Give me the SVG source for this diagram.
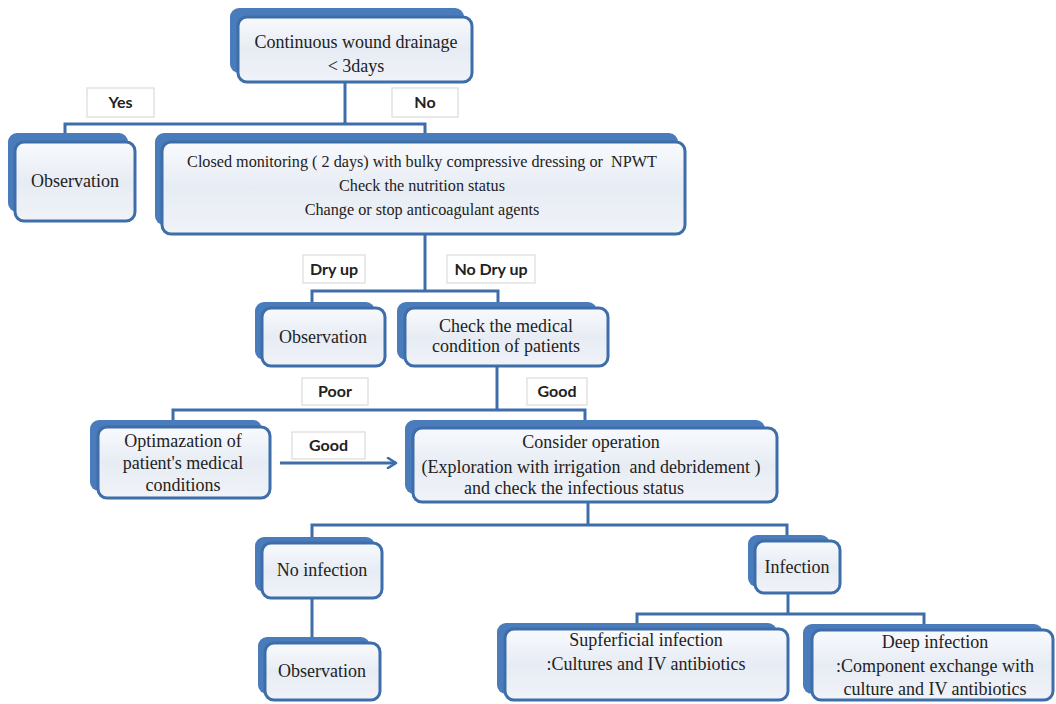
<svg xmlns="http://www.w3.org/2000/svg" width="1056" height="704" viewBox="0 0 1056 704">
<defs>
<linearGradient id="fg" x1="0" y1="0" x2="0" y2="1">
<stop offset="0" stop-color="#f8fafd"/>
<stop offset="0.5" stop-color="#e7ecf4"/>
<stop offset="1" stop-color="#f0f3f8"/>
</linearGradient>
<marker id="arr" viewBox="0 0 12 12" refX="10" refY="6" markerWidth="12" markerHeight="12" markerUnits="userSpaceOnUse" orient="auto">
<path d="M2,1 L10,6 L2,11" fill="none" stroke="#3e6eaa" stroke-width="2.6" stroke-linecap="round" stroke-linejoin="round"/>
</marker>
<style>
.bk{fill:#4a7bbb;}
.fr{fill:url(#fg);stroke:#3e6eaa;stroke-width:3;}
.t{font-family:"Liberation Serif","Times New Roman",serif;font-size:18px;fill:#222;text-anchor:middle;white-space:pre;}
.ts{font-size:16.2px;}
.lb{fill:#ffffff;stroke:#e2e2e2;stroke-width:1.5;}
.lt{font-family:Lato,"Liberation Sans",sans-serif;font-weight:bold;font-size:16px;fill:#222;text-anchor:middle;}
.c{fill:none;stroke:#3e6eaa;stroke-width:3;}
</style>
</defs>
<rect width="1056" height="704" fill="#ffffff"/>

<g id="connectors">
<path class="c" d="M345,82 V124"/>
<path class="c" d="M65,134 V124 H425 V134"/>
<path class="c" d="M425,234 V291"/>
<path class="c" d="M312,302 V291 H498 V302"/>
<path class="c" d="M497,366 V410"/>
<path class="c" d="M173,420 V410 H585 V420"/>
<path class="c" d="M280,463 H396" marker-end="url(#arr)"/>
<path class="c" d="M588,502 V525"/>
<path class="c" d="M312,537 V525 H787 V535"/>
<path class="c" d="M312,598 V637"/>
<path class="c" d="M788,593 V614"/>
<path class="c" d="M637,623 V614 H924 V625"/>
</g>

<g id="labels">
<g id="lbl-yes"><rect class="lb" x="87" y="88" width="67" height="29"/><text class="lt" x="120.5" y="108">Yes</text></g>
<g id="lbl-no"><rect class="lb" x="392" y="88" width="66" height="29"/><text class="lt" x="425" y="108">No</text></g>
<g id="lbl-dry"><rect class="lb" x="303" y="255" width="62" height="28"/><text class="lt" x="334" y="275">Dry up</text></g>
<g id="lbl-nodry"><rect class="lb" x="447" y="255" width="88" height="28"/><text class="lt" x="491" y="275">No Dry up</text></g>
<g id="lbl-poor"><rect class="lb" x="302" y="378" width="66" height="27"/><text class="lt" x="335" y="397">Poor</text></g>
<g id="lbl-good1"><rect class="lb" x="527" y="378" width="60" height="27"/><text class="lt" x="557" y="397">Good</text></g>
<g id="lbl-good2"><rect class="lb" x="292" y="432" width="73" height="27"/><text class="lt" x="328.5" y="451">Good</text></g>
</g>

<g id="n-top">
<rect class="bk" x="230" y="8" width="234" height="65" rx="9"/>
<rect class="fr" x="238" y="17" width="234" height="65" rx="9"/>
<text class="t" x="356" y="48">Continuous wound drainage</text>
<text class="t" x="356" y="72">&lt; 3days</text>
</g>

<g id="n-obs1">
<rect class="bk" x="8" y="133" width="120" height="79" rx="9"/>
<rect class="fr" x="15" y="142" width="120" height="79" rx="9"/>
<text class="t" x="75" y="187">Observation</text>
</g>

<g id="n-closed">
<rect class="bk" x="155" y="133" width="523" height="92" rx="9"/>
<rect class="fr" x="162" y="142" width="523" height="92" rx="9"/>
<text class="t ts" x="422" y="167">Closed monitoring ( 2 days) with bulky compressive dressing or  NPWT</text>
<text class="t ts" x="422" y="191">Check the nutrition status</text>
<text class="t ts" x="422" y="215">Change or stop anticoagulant agents</text>
</g>

<g id="n-obs2">
<rect class="bk" x="255" y="302" width="120" height="58" rx="9"/>
<rect class="fr" x="262" y="308" width="123" height="58" rx="9"/>
<text class="t" x="323" y="343">Observation</text>
</g>

<g id="n-check">
<rect class="bk" x="397" y="302" width="200" height="58" rx="9"/>
<rect class="fr" x="405" y="308" width="203" height="58" rx="9"/>
<text class="t" x="506" y="332">Check the medical</text>
<text class="t" x="506" y="352">condition of patients</text>
</g>

<g id="n-optim">
<rect class="bk" x="90" y="420" width="172" height="71" rx="9"/>
<rect class="fr" x="98" y="427" width="172" height="71" rx="9"/>
<text class="t" x="183" y="447">Optimazation of</text>
<text class="t" x="183" y="469">patient's medical</text>
<text class="t" x="183" y="491">conditions</text>
</g>

<g id="n-consider">
<rect class="bk" x="405" y="420" width="360" height="74" rx="9"/>
<rect class="fr" x="413" y="428" width="364" height="74" rx="9"/>
<text class="t" x="591" y="448">Consider operation</text>
<text class="t" x="591" y="473">(Exploration with irrigation  and debridement )</text>
<text class="t" x="574" y="494">and check the infectious status</text>
</g>

<g id="n-noinf">
<rect class="bk" x="255" y="537" width="120" height="55" rx="9"/>
<rect class="fr" x="262" y="543" width="120" height="55" rx="9"/>
<text class="t" x="322" y="576">No infection</text>
</g>

<g id="n-inf">
<rect class="bk" x="748" y="535" width="82" height="52" rx="9"/>
<rect class="fr" x="755" y="541" width="85" height="52" rx="9"/>
<text class="t" x="797" y="573">Infection</text>
</g>

<g id="n-obs3">
<rect class="bk" x="258" y="637" width="112" height="57" rx="9"/>
<rect class="fr" x="265" y="643" width="115" height="57" rx="9"/>
<text class="t" x="322" y="677">Observation</text>
</g>

<g id="n-supf">
<rect class="bk" x="497" y="623" width="280" height="71" rx="9"/>
<rect class="fr" x="505" y="629" width="283" height="71" rx="9"/>
<text class="t" x="646" y="646">Supferficial infection</text>
<text class="t" x="646" y="670">:Cultures and IV antibiotics</text>
</g>

<g id="n-deep">
<rect class="bk" x="803" y="624" width="240" height="70" rx="9"/>
<rect class="fr" x="812" y="630" width="241" height="70" rx="9"/>
<text class="t" x="935" y="648">Deep infection</text>
<text class="t" x="935" y="672">:Component exchange with</text>
<text class="t" x="935" y="695">culture and IV antibiotics</text>
</g>
</svg>
